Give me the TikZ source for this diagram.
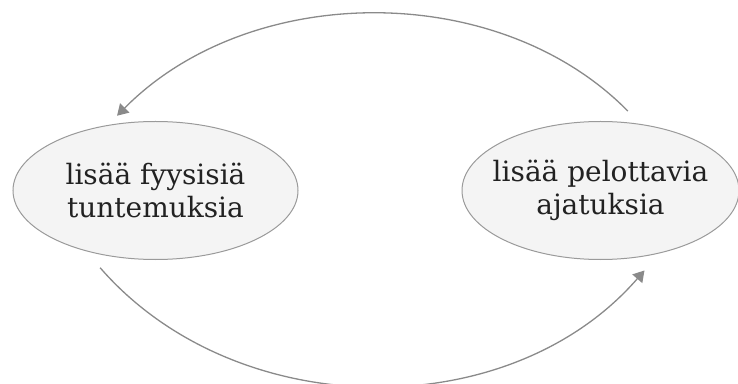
\documentclass[tikz,border=0pt]{standalone}
\usepackage{fontspec}
\setmainfont{DejaVu Serif}
\usetikzlibrary{arrows.meta,shapes.geometric}
\definecolor{edgegray}{HTML}{8A8A8A}
\definecolor{shapegray}{HTML}{9A9A9A}
\definecolor{shapefill}{HTML}{F4F4F4}
\definecolor{ink}{HTML}{222222}
\begin{document}
\begin{tikzpicture}[x=1pt,y=1pt,
  state/.style={ellipse, draw=shapegray, line width=1pt, fill=shapefill,
    inner xsep=-40pt, inner ysep=0pt, minimum height=138pt, text=ink,
    align=center, font=\fontsize{28}{33}\selectfont},
  cyc/.style={draw=edgegray, line width=1.3pt,
    -{Triangle[length=11pt,width=13pt]}}]
\useasboundingbox (0,0) rectangle (738,383);
% the two states of the loop
\node[state, minimum width=285pt] (l) at (155.5,192.5) {lisää fyysisiä\\tuntemuksia};
\node[state, minimum width=277pt] (r) at (600.5,192.5) {lisää pelottavia\\ajatuksia};
% upper arc: thoughts feed sensations
\draw[cyc, shorten <=18pt, shorten >=13pt]
  (r.59.7) to[out=134.5, in=45.3, looseness=0.97] (l.126.7);
% lower arc: sensations feed thoughts
\draw[cyc, shorten <=22pt, shorten >=22.5pt]
  (l.221.8) to[out=311, in=229, looseness=1.02] (r.313.5);
\end{tikzpicture}
\end{document}
